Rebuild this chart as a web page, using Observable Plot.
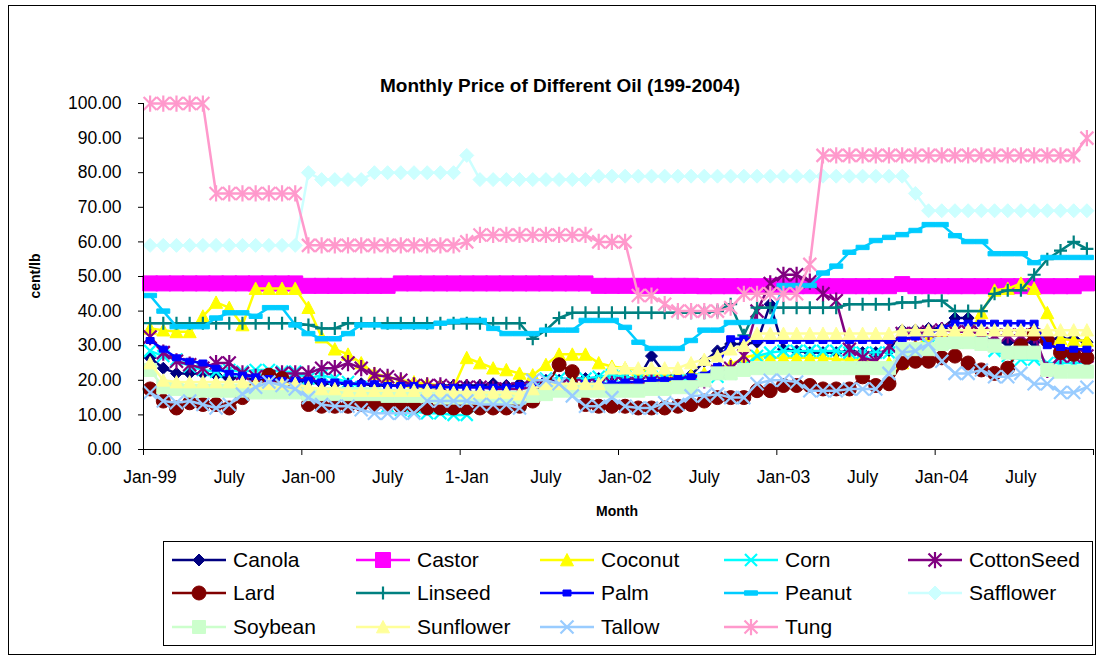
<!DOCTYPE html>
<html>
<head>
<meta charset="utf-8">
<script src="https://cdn.jsdelivr.net/npm/d3@7"></script>
<script src="https://cdn.jsdelivr.net/npm/@observablehq/plot@0.6"></script>
<style>
  html, body { margin: 0; padding: 0; background: #fff; }
  body { width: 1105px; height: 662px; position: relative; overflow: hidden; font-family: "Liberation Sans", Arial, sans-serif; }
  #frame { position: absolute; left: 8px; top: 5px; width: 1088px; height: 650px; border: 1px solid #000; box-sizing: border-box; }
  #title { position: absolute; left: 0; top: 75px; width: 1120px; text-align: center; font-weight: bold; font-size: 19px; line-height: 22px; }
  #ylab { position: absolute; left: 35px; top: 276px; transform: translate(-50%, -50%) rotate(-90deg); font-weight: bold; font-size: 14px; white-space: nowrap; }
  #xlab { position: absolute; left: 617px; top: 511px; transform: translate(-50%, -50%); font-weight: bold; font-size: 14px; }
  #chart { position: absolute; left: 0; top: 0; }
  #legend { position: absolute; left: 163px; top: 541px; width: 930px; height: 105px; border: 1px solid #000; box-sizing: border-box; background: #fff; }
  .item { position: absolute; height: 24px; }
  .item svg { position: absolute; left: 0; top: 0; overflow: visible; }
  .item span { position: absolute; left: 61px; top: 0; line-height: 24px; font-size: 21px; white-space: nowrap; }
</style>
</head>
<body>
<div id="frame"></div>
<div id="chart"></div>
<div id="title">Monthly Price of Different Oil (199-2004)</div>
<div id="ylab">cent/lb</div>
<div id="xlab">Month</div>
<div id="legend"></div>
<script>
// ---- Data (cent/lb), monthly Jan-1999 .. Dec-2004 ----
const xTickLabels = ["Jan-99","July","Jan-00","July","1-Jan","July","Jan-02","July","Jan-03","July","Jan-04","July"];
const yTicks = [0,10,20,30,40,50,60,70,80,90,100];

const canola = [26.5,23.5,22,22,22,21.5,20.5,21,20,20,19.5,19.5,
  19.5,19,19,19,19,18.5,18.5,18.5,18.5,18.5,18.5,18.5,
  18.5,18.5,19,18.5,19,19.5,20,20,20.5,20.5,20.5,21.5,
  20.5,20.5,27,22,21,21.5,25.5,28.5,30.5,30.5,31,42,
  29,28.5,28,28,28,28.5,28,28,28.5,34.5,34.5,35,
  35,38,38,33,31,31,31,31,32,32,32,31];
const castor = [48,48,48,48,48,48,48,48,48,48,48,48,
  47.3,47.3,47.3,47.3,47.3,47.3,47.3,48,48,48,48,48,
  48,48,48,48,48,48,48,48,48,48,47.3,47.3,
  47.3,47.3,47.3,47.3,47.3,47.3,47.2,47.2,47.2,47.2,47.2,47.2,
  47.2,47.2,47.2,47.2,47.2,47.2,47.2,47.2,47.2,47.8,47.2,47.2,
  47.2,47.2,47.2,47.2,47.2,47.2,47.2,47.2,47.2,47.2,47.2,48];
const coconut = [35,34.5,34,34,38.5,42.5,41,36,46.5,46.5,46.5,46.5,
  41,32.5,29,27.5,25,22,21,20,19.5,19,18.5,18,
  26.5,25,23.5,23,22,21.5,24.5,27.5,27.5,27.5,25,24,
  23.5,23,22.5,21,21,21.5,22,23,24.5,26.5,27.5,26.5,
  26.5,26.5,26.5,26.5,26,26,26,25,25,25,30,32,
  33,33,33,39.5,46,46.5,48,46.5,39.5,32,31.5,31.5];
const corn = [28.5,27,26,24,23,22.5,23,22.5,23,23,22.5,22.5,
  20.5,21.5,20.5,19.5,18,14,12.5,11.5,11,10.5,10.5,10,
  10,12.5,13,13,13,17.5,20.5,20.5,20.5,20.5,21,21.5,
  21,20.5,21,20.5,20,20,20.5,21,22,24,27,28,
  28.5,28.5,28.5,28.5,28.5,28,28,28,28,28.5,29,30,
  30.5,31,31,31,28.5,27,26,26,25,25,25,25];
const cottonSeed = [32.5,28,25.5,24.5,23.5,25,25,22,21,21,22,22,
  22,23.5,23.5,25,23.5,21.5,21,20,18.5,18.5,18.5,18,
  18,18,17.5,17.5,17.5,18,18,18,18.5,18.5,18.5,19,
  19,19,19.5,19,19,19.5,20,22.5,23.5,27,40,48,
  50.5,50.5,48.5,45,43,29,26.5,25.5,30,33.5,33.5,34,
  34.5,34,34,33.5,33,33,33,33,23,27,27,27];
const lard = [17.5,14,12,13.5,13,13,12,15,18,21.5,20.5,17,
  13,12.5,12.5,12.5,13,13,13,12.5,12.5,12,12,12,
  12,12,12,12,12.5,14,18,24.5,22.5,13,12.5,12.5,
  12.5,12,12,12,12.5,13,14,15,15,15,17,17,
  18.5,18.5,18.5,17.5,17.5,17.5,21,18.5,19,25,25.5,25.5,
  26.5,27,25,23,22,23.5,30,33.5,31.5,28,27.5,26.5];
const linseed = [36.5,36.5,36.5,36.5,36.5,36.5,36.5,36.5,36.5,36.5,36.5,36.5,
  36,35,35,36.5,36.5,36.5,36.5,36.5,36.5,36.5,36.5,36.5,
  36.5,36.5,36.5,36.5,36.5,32,34.5,38,39.5,39.5,39.5,39.5,
  39.5,39.5,39.5,39.5,39.5,39.5,39.5,40,42,33,41,41,
  41,41,41,41,41,42,42,42,42,42.5,42.5,43,
  43,40,40,40,45,46,46,50.5,55,57.5,60,58];
const palm = [31.5,29,26.5,25.5,25,23.5,22,21.5,21,20.5,20,20,
  20,19.5,19.5,19,19,19,18.5,18.5,18.5,18,18,18,
  18,18,18,18,18.5,18.5,18.5,18.5,18.5,19,19,19,
  19.5,19.5,20,20,20.5,21,21.5,24,32,32,31.5,31.5,
  31.5,31.5,31.5,31.5,31.5,31.5,31.5,31.5,31.5,32,32.5,33.5,
  35,36.5,36.5,36.5,36.5,36.5,36.5,36.5,30,29.5,29,29];
const peanut = [44.5,40,35.5,35.5,35.5,38,39.5,39.5,38.5,41,41,36,
  33.5,32,32,33.5,36,36,35.5,35.5,35.5,35.5,36.5,37,
  37.3,37.3,35,33.5,33.5,33.5,34.5,34.5,34.5,37.3,37.3,37.3,
  35.3,31,29.2,29.2,29.2,31.5,34.5,34.5,36.7,36.7,37,37,
  47.4,47.4,47.4,51,53,57,58.4,60.4,61.3,62.1,63.3,65,
  65,61.8,60.1,60.1,56.6,56.6,56.6,54,55.5,55.5,55.5,55.5];
const safflower = [59,59,59,59,59,59,59,59,59,59,59,59,
  80,78,78,78,78,80,80,80,80,80,80,80,
  85,78,78,78,78,78,78,78,78,78,79,79,
  79,79,79,79,79,79,79,79,79,79,79,79,
  79,79,79,79,79,79,79,79,79,79,74,69,
  69,69,69,69,69,69,69,69,69,69,69,69];
const soybean = [23,18,17.5,17,17,17,17,17,16.5,16.5,16.5,16.5,
  16,16,16,16,16,16,15.5,15.5,15.5,15.5,15,15,
  15,15,15,15,15,15.5,16,17,17,17,17,17,
  17,17,17.5,17.5,18,18,20,22,22,23,23.5,23.5,
  23.5,23.5,23.5,23.5,23.5,23.5,23.5,23.5,23.5,29,29,29,
  30.5,31,31,30.5,30,28,28,28,23,22.5,22.5,22.5];
const sunflower = [25,20,19.5,19.5,19.5,19.5,19.5,19.5,19,19,19,19,
  18,17.5,17.5,17,17,17,17,17,17,17,17,16.5,
  16.5,16.5,16.5,16.5,16,17.5,19,19,19,19,19,23.5,
  23.5,23.5,23.5,23.5,23.5,25,26,27,29,30,33.5,33.5,
  33.5,33.5,33.5,33.5,33.5,33.5,33.5,33.5,33.5,34.5,34.5,34.5,
  34.5,34.5,34.5,34.5,34.5,34.5,34.5,34.5,34.5,34.5,34.5,34.5];
const tallow = [16.5,14,13.5,14,13,12,13,16,18,19.5,18.5,17.5,
  15,13,12.5,12.5,11.5,10.5,10.5,10.5,10.5,14,14,14,
  14,13,13,13,12,20,20,19,15.5,12.5,12.5,15,
  12.5,12,12,13.5,13,15.5,15.5,16,15,15,19,20,
  20,19.5,17,17,17,17.5,17.5,17.5,22,28,28.5,30.5,
  25.5,22,22,23,21,21,22,19,19,16.5,16.5,18];
const tung = [100,100,100,100,100,74,74,74,74,74,74,74,
  59,59,59,59,59,59,59,59,59,59,59,59,
  60,62,62,62,62,62,62,62,62,62,60,60,
  60,44.5,44.5,42,40,40,40,40,41,45,45,45,
  45,45,53.5,85,85,85,85,85,85,85,85,85,
  85,85,85,85,85,85,85,85,85,85,85,90];

// ---- Custom marker shapes (size = PI*r*r, r = half width) ----
const half = s => Math.sqrt(s / Math.PI);
const SYM = {
  diamond: {draw(c, s){const r=half(s); c.moveTo(0,-r); c.lineTo(r,0); c.lineTo(0,r); c.lineTo(-r,0); c.closePath();}},
  square: {draw(c, s){const r=half(s); c.rect(-r,-r,2*r,2*r);}},
  triangle: {draw(c, s){const r=half(s); c.moveTo(0,-r); c.lineTo(r,r*0.9); c.lineTo(-r,r*0.9); c.closePath();}},
  times: {draw(c, s){const r=half(s); c.moveTo(-r,-r); c.lineTo(r,r); c.moveTo(r,-r); c.lineTo(-r,r);}},
  asterisk: {draw(c, s){const r=half(s); c.moveTo(-r,-r); c.lineTo(r,r); c.moveTo(r,-r); c.lineTo(-r,r); c.moveTo(0,-r*1.25); c.lineTo(0,r*1.25);}},
  circle: {draw(c, s){const r=half(s); c.moveTo(r,0); c.arc(0,0,r,0,2*Math.PI); c.closePath();}},
  plus: {draw(c, s){const r=half(s); c.moveTo(0,-r); c.lineTo(0,r); c.moveTo(-r,0); c.lineTo(r,0);}},
  dash: {draw(c, s){const r=half(s); c.rect(-r,-2.2,2*r,4.4);}},
  smallsq: {draw(c, s){const r=half(s); c.rect(-r,-r*0.75,2*r,1.5*r);}}
};

const series = [
  {name:"Canola", values:canola, color:"#000080", sym:"diamond", r:6, fill:true},
  {name:"Castor", values:castor, color:"#FF00FF", sym:"square", r:7.5, fill:true},
  {name:"Coconut", values:coconut, color:"#FFFF00", sym:"triangle", r:6.5, fill:true},
  {name:"Corn", values:corn, color:"#00FFFF", sym:"times", r:6, fill:false},
  {name:"CottonSeed", values:cottonSeed, color:"#800080", sym:"asterisk", r:6.5, fill:false},
  {name:"Lard", values:lard, color:"#800000", sym:"circle", r:7, fill:true},
  {name:"Linseed", values:linseed, color:"#008080", sym:"plus", r:6.5, fill:false},
  {name:"Palm", values:palm, color:"#0000FF", sym:"smallsq", r:4, fill:true},
  {name:"Peanut", values:peanut, color:"#00CCFF", sym:"dash", r:6.5, fill:true},
  {name:"Safflower", values:safflower, color:"#CCFFFF", sym:"diamond", r:7, fill:true},
  {name:"Soybean", values:soybean, color:"#CCFFCC", sym:"square", r:6.5, fill:true},
  {name:"Sunflower", values:sunflower, color:"#FFFF99", sym:"triangle", r:6.5, fill:true},
  {name:"Tallow", values:tallow, color:"#99CCFF", sym:"times", r:6.5, fill:false},
  {name:"Tung", values:tung, color:"#FF99CC", sym:"asterisk", r:6.5, fill:false}
];

const seriesMarks = series.flatMap(s => [
  Plot.line(s.values, {x: (d, i) => i, y: d => d, stroke: s.color, strokeWidth: 2.5}),
  Plot.dot(s.values, {x: (d, i) => i, y: d => d, symbol: SYM[s.sym], r: s.r,
    fill: s.fill ? s.color : "none", stroke: s.color, strokeWidth: s.fill ? 1 : 2.2})
]);

const chart = Plot.plot({
  width: 1105, height: 530,
  marginLeft: 143, marginRight: 12, marginTop: 103, marginBottom: 81,
  x: {domain: [-0.5, 71.5], axis: null},
  y: {domain: [0, 100], axis: null},
  style: {fontFamily: '"Liberation Sans", Arial, sans-serif', fontSize: "17.5px", background: "transparent", overflow: "visible", color: "#000"},
  marks: [
    ...seriesMarks,
    Plot.ruleX([-0.5], {y1: 0, y2: 100, stroke: "#000", strokeWidth: 1}),
    Plot.ruleY([0], {x1: -0.5, x2: 71.5, stroke: "#000", strokeWidth: 1}),
    Plot.axisY({ticks: yTicks, tickFormat: d3.format(".2f"), tickSize: 5, tickPadding: 17, label: null, stroke: "#000", strokeOpacity: 1}),
    Plot.axisX({ticks: d3.range(-0.5, 72, 12), tickSize: 6, tickFormat: () => "", label: null, stroke: "#000", strokeOpacity: 1}),
    Plot.axisX({ticks: d3.range(0, 72, 6), tickSize: 0, tickPadding: 21, tickFormat: d => xTickLabels[d / 6], label: null})
  ]
});
document.getElementById("chart").appendChild(chart);

// ---- Legend ----
const legend = document.getElementById("legend");
const rowTops = [6, 39, 73];
series.forEach((s, k) => {
  const col = k % 5, row = Math.floor(k / 5);
  const item = document.createElement("div");
  item.className = "item";
  item.style.left = (8 + col * 184) + "px";
  item.style.top = rowTops[row] + "px";
  const svg = d3.create("svg").attr("width", 56).attr("height", 24);
  svg.append("line").attr("x1", 0).attr("x2", 54).attr("y1", 12).attr("y2", 12)
    .attr("stroke", s.color).attr("stroke-width", 2.5);
  svg.append("path").attr("transform", "translate(27,12)")
    .attr("d", d3.symbol(SYM[s.sym], s.r * s.r * Math.PI)())
    .attr("fill", s.fill ? s.color : "none").attr("stroke", s.color).attr("stroke-width", s.fill ? 1 : 2.2);
  item.appendChild(svg.node());
  const t = document.createElement("span");
  t.textContent = s.name;
  item.appendChild(t);
  legend.appendChild(item);
});
</script>
</body>
</html>
